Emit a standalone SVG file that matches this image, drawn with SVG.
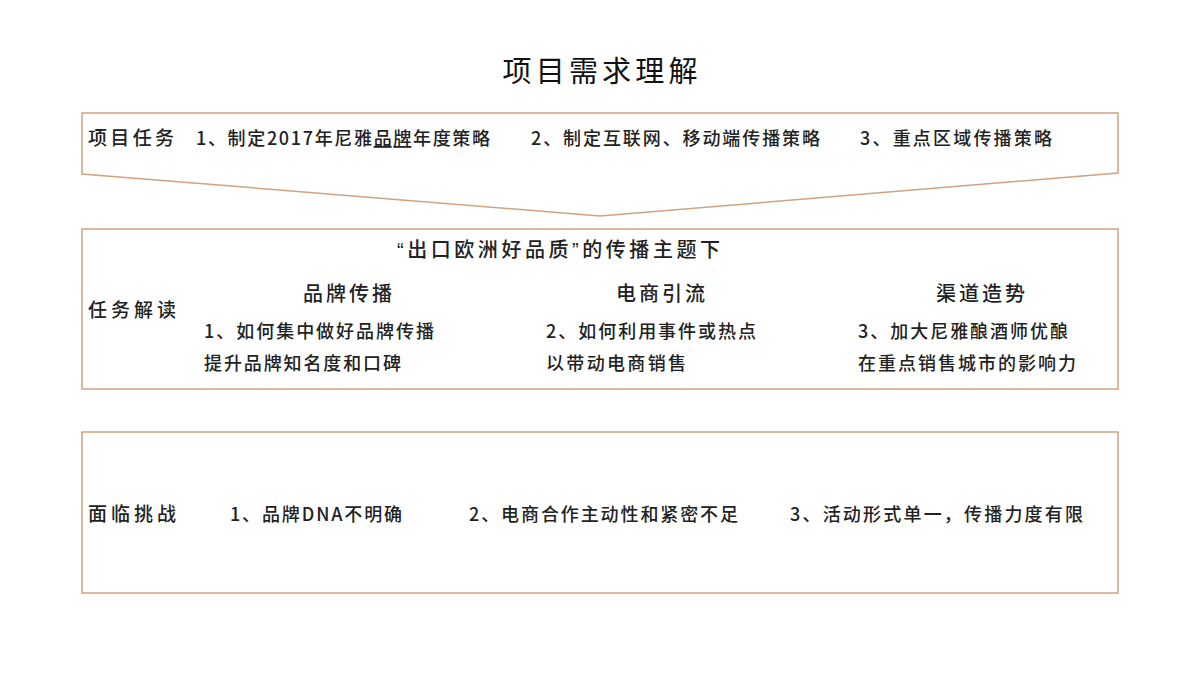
<svg xmlns="http://www.w3.org/2000/svg" width="1200" height="675" viewBox="0 0 1200 675">
<style>
.box{fill:#ffffff;stroke:#d1a27f;stroke-width:1.5}
text{font-family:"Noto Sans CJK SC","Noto Sans",sans-serif;fill:#222222;font-weight:500}
.t{font-size:18px}
.l{font-size:19px}
.h{font-size:20px}
.title{font-size:29px;font-weight:400;fill:#111111}
.q{font-family:"Liberation Sans",sans-serif}
</style>
<rect width="1200" height="675" fill="#ffffff"/>
<text class="title" x="600" y="82" text-anchor="middle" textLength="195" lengthAdjust="spacing">项目需求理解</text>
<g id="task">
<polygon class="box" points="82,113 1118,113 1118,173 600,216 82,174"/>
<text class="l" x="88" y="145" textLength="86" lengthAdjust="spacing">项目任务</text>
<text class="t" x="196" y="145" textLength="294" lengthAdjust="spacing">1、制定2017年尼雅<tspan text-decoration="underline">品牌</tspan>年度策略</text>
<text class="t" x="531" y="145" textLength="289" lengthAdjust="spacing">2、制定互联网、移动端传播策略</text>
<text class="t" x="860" y="145" textLength="192" lengthAdjust="spacing">3、重点区域传播策略</text>
</g>
<g id="interpret">
<rect class="box" x="82" y="229" width="1036" height="160"/>
<text class="h" x="397" y="257" textLength="323" lengthAdjust="spacing"><tspan class="q">“</tspan>出口欧洲好品质<tspan class="q">”</tspan>的传播主题下</text>
<text class="l" x="88" y="317" textLength="88" lengthAdjust="spacing">任务解读</text>
<text class="h" x="303" y="301" textLength="89" lengthAdjust="spacing">品牌传播</text>
<text class="h" x="616" y="301" textLength="89" lengthAdjust="spacing">电商引流</text>
<text class="h" x="936" y="301" textLength="89" lengthAdjust="spacing">渠道造势</text>
<text class="t" x="204" y="338" textLength="230" lengthAdjust="spacing">1、如何集中做好品牌传播</text>
<text class="t" x="204" y="370" textLength="197" lengthAdjust="spacing">提升品牌知名度和口碑</text>
<text class="t" x="546" y="338" textLength="210" lengthAdjust="spacing">2、如何利用事件或热点</text>
<text class="t" x="546" y="370" textLength="140" lengthAdjust="spacing">以带动电商销售</text>
<text class="t" x="858" y="338" textLength="210" lengthAdjust="spacing">3、加大尼雅酿酒师优酿</text>
<text class="t" x="858" y="370" textLength="218" lengthAdjust="spacing">在重点销售城市的影响力</text>
</g>
<g id="challenge">
<rect class="box" x="82" y="432" width="1036" height="161"/>
<text class="l" x="88" y="521" textLength="88" lengthAdjust="spacing">面临挑战</text>
<text class="t" x="230" y="521" textLength="172" lengthAdjust="spacing">1、品牌DNA不明确</text>
<text class="t" x="469" y="521" textLength="269" lengthAdjust="spacing">2、电商合作主动性和紧密不足</text>
<text class="t" x="790" y="521" textLength="293" lengthAdjust="spacing">3、活动形式单一，传播力度有限</text>
</g>
<g id="connectors"></g>
</svg>
